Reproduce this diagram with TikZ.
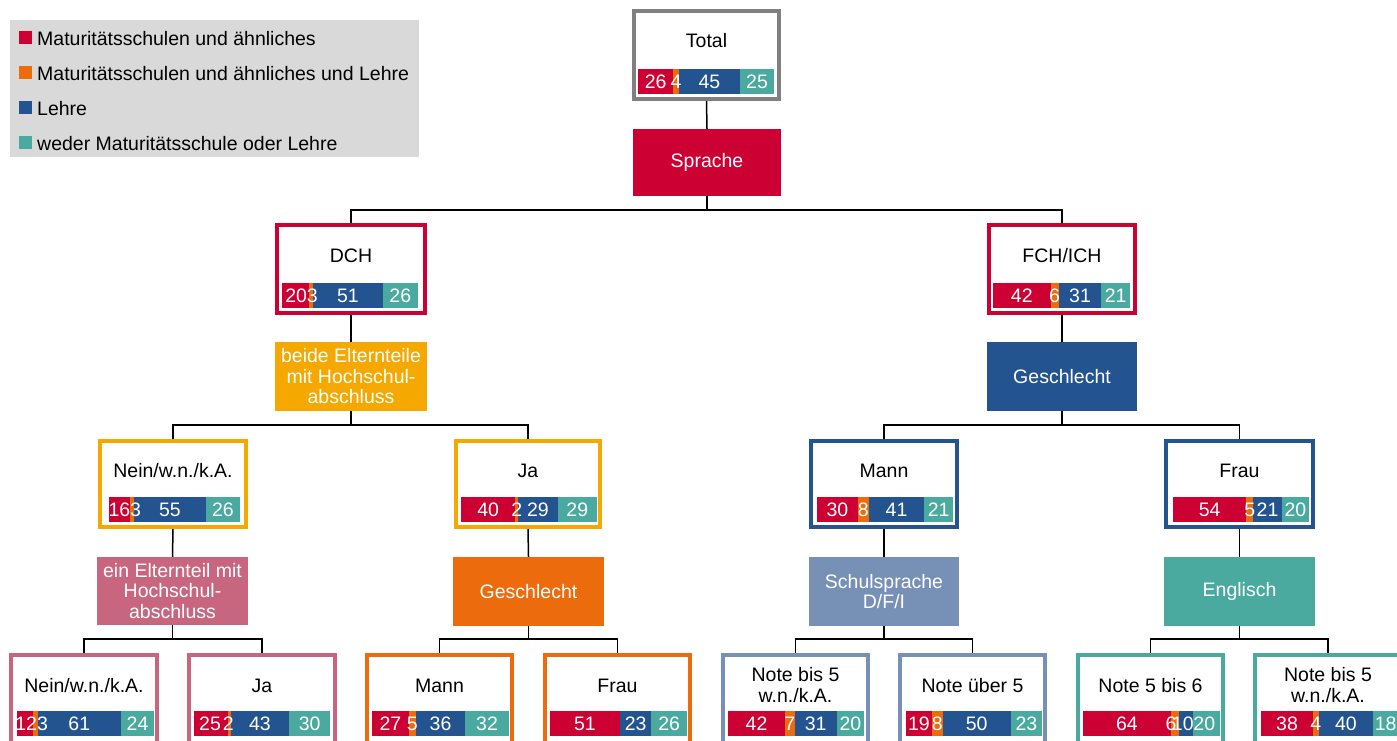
\documentclass[tikz,border=0pt]{standalone}
\usepackage{fontspec}
\setmainfont{Liberation Sans}
\definecolor{cr}{HTML}{CC0033}
\definecolor{co}{HTML}{EC6C0D}
\definecolor{cb}{HTML}{24548F}
\definecolor{ct}{HTML}{4BAA9F}
\definecolor{camber}{HTML}{F5A800}
\definecolor{cmauve}{HTML}{C8667F}
\definecolor{cgblue}{HTML}{7790B5}
\definecolor{cgray}{HTML}{808080}
\definecolor{legbg}{HTML}{D9D9D9}
\newcommand\fs{\fontsize{19.5}{20.5}\selectfont}
\tikzset{
  rbox/.style={draw=#1, line width=4pt, fill=white, inner sep=0pt},
  opbox/.style={fill=#1, text=white, inner sep=0pt, align=center, font=\fs},
  conn/.style={draw=black, line width=1.5pt},
  boxlab/.style={inner sep=0pt, anchor=base, font=\fs, text=black},
  numlab/.style={inner sep=0pt, anchor=base, font=\fs, text=white},
  leglab/.style={inner sep=0pt, anchor=base west, font=\fs, text=black},
}
\newcommand\rbox[6]{%
  \pgfmathsetmacro\bw{#4-#2-4}\pgfmathsetmacro\bh{#5-#3-4}%
  \node[rbox=#6, minimum width=\bw pt, minimum height=\bh pt] (#1) at ({(#2+#4)/2},{(#3+#5)/2}) {};}
\newcommand\obox[7]{%
  \pgfmathsetmacro\bw{#4-#2}\pgfmathsetmacro\bh{#5-#3}%
  \node[opbox=#6, minimum width=\bw pt, minimum height=\bh pt] (#1) at ({(#2+#4)/2},{(#3+#5)/2}) {#7};}
\gdef\offa{0}\gdef\offb{0}\gdef\offc{0}\gdef\offd{0}
\newcommand\setoff[4]{\gdef\offa{#1}\gdef\offb{#2}\gdef\offc{#3}\gdef\offd{#4}}
\newcommand\sfill[4]{% color, value, y0, total width
  \pgfmathsetmacro\segw{#4*#2/100}%
  \ifnum#2>0 \fill[#1] (\curx,#3) rectangle ++(\segw,25);\fi
  \pgfmathsetmacro\nx{\curx+\segw}\xdef\curx{\nx}}
\newcommand\slab[5]{% name, value, y0, total width, offset
  \pgfmathsetmacro\segw{#4*#2/100}%
  \ifnum#2>0
    \pgfmathsetmacro\mx{\curx+\segw/2+#5}\pgfmathsetmacro\my{#3+12.5+7}%
    \node[numlab] (#1) at (\mx,\my) {#2};%
  \fi
  \pgfmathsetmacro\nx{\curx+\segw}\xdef\curx{\nx}}
\newcommand\pbar[8]{% name, x0, y0, width, a, b, c, d
  \xdef\curx{#2}%
  \sfill{cr}{#5}{#3}{#4}\sfill{co}{#6}{#3}{#4}\sfill{cb}{#7}{#3}{#4}\sfill{ct}{#8}{#3}{#4}%
  \xdef\curx{#2}%
  \slab{#1-a}{#5}{#3}{#4}{\offa}\slab{#1-b}{#6}{#3}{#4}{\offb}\slab{#1-c}{#7}{#3}{#4}{\offc}\slab{#1-d}{#8}{#3}{#4}{\offd}%
  \setoff{0}{0}{0}{0}}
\begin{document}
\begin{tikzpicture}[x=1pt,y=-1pt]
\clip (0,0) rectangle (1397,740);
\fill[white] (0,0) rectangle (1397,740);
% legend
\fill[legbg] (10,20) rectangle (419,157);
\fill[cr] (19,31) rectangle (32,44);
\fill[co] (19,66) rectangle (32,79);
\fill[cb] (19,101) rectangle (32,114);
\fill[ct] (19,136) rectangle (32,149);
\node[leglab] (leg1) at (37,45) {Maturitätsschulen und ähnliches};
\node[leglab] (leg2) at (37,80) {Maturitätsschulen und ähnliches und Lehre};
\node[leglab] (leg3) at (37,115) {Lehre};
\node[leglab] (leg4) at (37,150) {weder Maturitätsschule oder Lehre};
% level 0
\rbox{total}{632}{9}{781}{101}{cgray}
\node[boxlab] (total-t) at (706.5,47) {Total};
\pbar{total}{638}{69}{136}{26}{4}{45}{25}
\obox{sprache}{633}{129}{781}{196}{cr}{Sprache}
% level 1
\rbox{dch}{275}{223}{427}{315}{cr}
\node[boxlab] (dch-t) at (351,262) {DCH};
\setoff{0.5}{1}{0}{0}
\pbar{dch}{282}{283}{136}{20}{3}{51}{26}
\rbox{fch}{987}{223}{1137}{315}{cr}
\node[boxlab] (fch-t) at (1062,262) {FCH/ICH};
\pbar{fch}{993}{283}{137}{42}{6}{31}{21}
\obox{beide}{275}{342}{427}{411}{camber}{beide Elternteile\\mit Hochschul-\\abschluss}
\obox{geschl1}{987}{342}{1137}{411}{cb}{Geschlecht}
% level 2
\rbox{nein1}{98}{439}{248}{529}{camber}
\node[boxlab] (nein1-t) at (173,477) {Nein/w.n./k.A.};
\setoff{0}{3.5}{0}{0}
\pbar{nein1}{109}{497}{131}{16}{3}{55}{26}
\rbox{ja1}{454}{439}{602}{529}{camber}
\node[boxlab] (ja1-t) at (528,477) {Ja};
\pbar{ja1}{461}{497}{136}{40}{2}{29}{29}
\rbox{mann1}{809}{439}{959}{529}{cb}
\node[boxlab] (mann1-t) at (884,477) {Mann};
\pbar{mann1}{817}{497}{136}{30}{8}{41}{21}
\rbox{frau1}{1164}{439}{1315}{529}{cb}
\node[boxlab] (frau1-t) at (1239.5,477) {Frau};
\pbar{frau1}{1173}{497}{136}{54}{5}{21}{20}
\obox{ein}{97}{557}{248}{625}{cmauve}{ein Elternteil mit\\Hochschul-\\abschluss}
\obox{geschl2}{453}{557}{604}{626}{co}{Geschlecht}
\obox{schul}{809}{557}{959}{626}{cgblue}{Schulsprache\\D/F/I}
\obox{engl}{1164}{557}{1315}{626}{ct}{Englisch}
% level 3
\rbox{nein2}{9}{653}{159}{760}{cmauve}
\node[boxlab] (nein2-t) at (84,692) {Nein/w.n./k.A.};
\setoff{1}{7}{0}{0}
\pbar{nein2}{17}{711}{137}{12}{3}{61}{24}
\rbox{ja2}{187}{653}{337}{760}{cmauve}
\node[boxlab] (ja2-t) at (262,692) {Ja};
\setoff{-1}{-1}{0}{0}
\pbar{ja2}{194}{711}{136}{25}{2}{43}{30}
\rbox{mann2}{365}{653}{514}{760}{co}
\node[boxlab] (mann2-t) at (439.5,692) {Mann};
\pbar{mann2}{372}{711}{137}{27}{5}{36}{32}
\rbox{frau2}{543}{653}{692}{760}{co}
\node[boxlab] (frau2-t) at (617.5,692) {Frau};
\pbar{frau2}{550}{711}{137}{51}{0}{23}{26}
\rbox{nb1}{721}{653}{870}{760}{cgblue}
\node[boxlab] (nb1-t1) at (795.5,681) {Note bis 5};
\node[boxlab] (nb1-t2) at (795.5,702) {w.n./k.A.};
\pbar{nb1}{728}{711}{136}{42}{7}{31}{20}
\rbox{nu}{898}{653}{1047}{760}{cgblue}
\node[boxlab] (nu-t) at (972.5,692) {Note über 5};
\pbar{nu}{906}{711}{136}{19}{8}{50}{23}
\rbox{n56}{1076}{653}{1225}{760}{ct}
\node[boxlab] (n56-t) at (1150.5,692) {Note 5 bis 6};
\setoff{0}{-3.8}{-3}{-2}
\pbar{n56}{1083}{711}{137}{64}{6}{10}{20}
\rbox{nb2}{1253}{653}{1403}{760}{ct}
\node[boxlab] (nb2-t1) at (1328,681) {Note bis 5};
\node[boxlab] (nb2-t2) at (1328,702) {w.n./k.A.};
\pbar{nb2}{1261}{711}{137}{38}{4}{40}{18}
% connectors
\draw[conn] (total.south) -- (sprache.north);
\draw[conn] (sprache.south) -- ++(0,14) -| (dch.north);
\draw[conn] (sprache.south) ++(0,14) -| (fch.north);
\draw[conn] (dch.south) -- (beide.north);
\draw[conn] (fch.south) -- (geschl1.north);
\draw[conn] (beide.south) -- ++(0,14) -| (nein1.north);
\draw[conn] (beide.south) ++(0,14) -| (ja1.north);
\draw[conn] (geschl1.south) -- ++(0,14) -| (mann1.north);
\draw[conn] (geschl1.south) ++(0,14) -| (frau1.north);
\draw[conn] (nein1.south) -- (ein.north);
\draw[conn] (ja1.south) -- (geschl2.north);
\draw[conn] (mann1.south) -- (schul.north);
\draw[conn] (frau1.south) -- (engl.north);
\draw[conn] (ein.south) -- ++(0,14) -| (nein2.north);
\draw[conn] (ein.south) ++(0,14) -| (ja2.north);
\draw[conn] (geschl2.south) -- ++(0,13) -| (mann2.north);
\draw[conn] (geschl2.south) ++(0,13) -| (frau2.north);
\draw[conn] (schul.south) -- ++(0,13) -| (nb1.north);
\draw[conn] (schul.south) ++(0,13) -| (nu.north);
\draw[conn] (engl.south) -- ++(0,13) -| (n56.north);
\draw[conn] (engl.south) ++(0,13) -| (nb2.north);
\end{tikzpicture}
\end{document}
